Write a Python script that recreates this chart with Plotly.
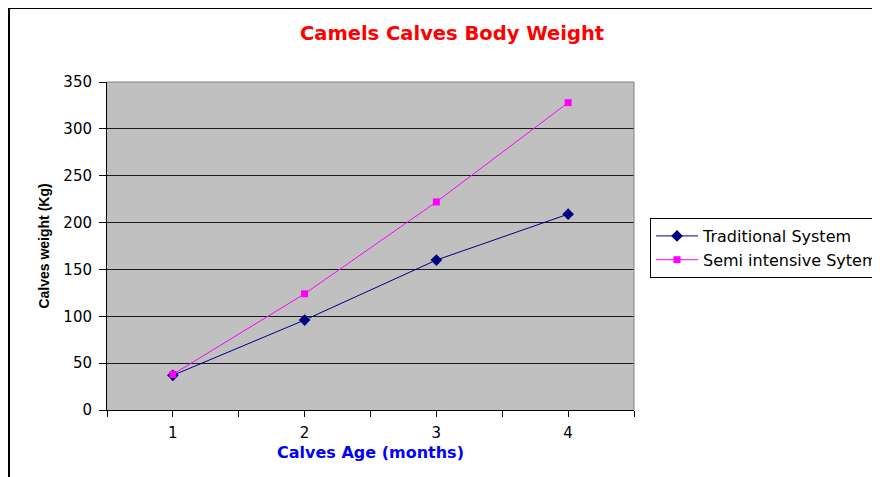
import plotly.graph_objects as go

ages = [1, 2, 3, 4]
traditional = [37, 96, 160, 209]
semi_intensive = [38, 124, 222, 328]
x_tick_vals = [0.5, 1, 1.5, 2, 2.5, 3, 3.5, 4, 4.5]
x_tick_text = ["", "1", "", "2", "", "3", "", "4", ""]

FONT = "DejaVu Sans, Arial, sans-serif"
FONT_B = "Liberation Sans, Arial, sans-serif"

fig = go.Figure()
fig.add_trace(go.Scatter(
    x=ages, y=traditional, name="Traditional System", mode="lines+markers",
    line=dict(color="#000080", width=1),
    marker=dict(symbol="diamond", size=9, color="#000080"),
))
fig.add_trace(go.Scatter(
    x=ages, y=semi_intensive, name="Semi intensive Sytem", mode="lines+markers",
    line=dict(color="#FF00FF", width=1),
    marker=dict(symbol="square", size=7, color="#FF00FF"),
))

W, H = 880, 477
L, R, T, B = 99, 254, 74, 75
pw, ph = W - L - R, H - T - B

fig.update_layout(
    width=W, height=H,
    margin=dict(l=L, r=R, t=T, b=B, autoexpand=False),
    paper_bgcolor="white", plot_bgcolor="#C0C0C0",
    font=dict(family=FONT, size=15, color="black"),
    title=dict(text="<b>Camels Calves Body Weight</b>", x=444 / W, xanchor="center",
               y=1 - 25 / H, yanchor="middle", font=dict(size=19.5, color="#FF0000", family=FONT)),
    xaxis=dict(range=[0.5, 4.5], tickmode="array", tickvals=x_tick_vals, ticktext=x_tick_text,
               ticks="outside", ticklen=6, tickcolor="black", showgrid=False, zeroline=False,
               showline=True, linecolor="black", linewidth=1, ticklabelstandoff=3,
               tickfont=dict(size=15),
               title=dict(text="<b>Calves Age (months)</b>", font=dict(color="#0000FF", size=16), standoff=5)),
    yaxis=dict(range=[0, 350], dtick=50, ticks="outside", ticklen=7, tickcolor="black",
               showgrid=True, gridcolor="#1a1a1a", gridwidth=1, zeroline=False,
               showline=True, linecolor="black", linewidth=1, ticklabelstandoff=4,
               tickfont=dict(size=15),
               title=dict(text="<b>Calves weight (Kg)</b>", font=dict(size=14, family=FONT_B), standoff=10)),
    legend=dict(x=(642 - L) / pw, y=(H - B - 210) / ph, xanchor="left", yanchor="top",
                bordercolor="black", borderwidth=1, bgcolor="white",
                font=dict(size=16), tracegroupgap=0, itemwidth=42),
    showlegend=True,
)

# gray border top/right of plot area
fig.add_shape(type="line", xref="paper", yref="paper", x0=0, x1=1, y0=1, y1=1,
              line=dict(color="#808080", width=1))
fig.add_shape(type="line", xref="paper", yref="paper", x0=1, x1=1, y0=0, y1=1,
              line=dict(color="#808080", width=1))
# outer chart border (left & top)
bx = (1 - L) / pw
by = (H - B - 0) / ph
fig.add_shape(type="line", xref="paper", yref="paper", x0=bx, x1=bx, y0=-1, y1=by,
              line=dict(color="black", width=2))
fig.add_shape(type="line", xref="paper", yref="paper", x0=bx, x1=3, y0=by, y1=by,
              line=dict(color="black", width=2))

fig.write_html("out.html")
